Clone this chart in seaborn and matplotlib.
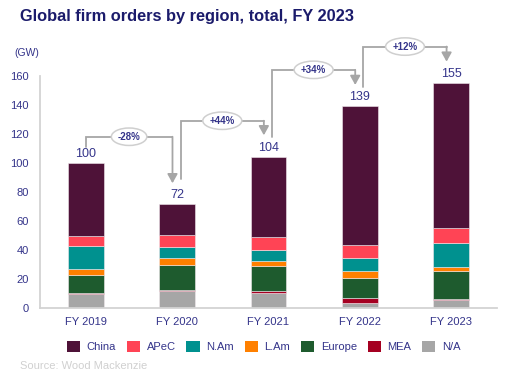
import matplotlib
matplotlib.use("Agg")
import matplotlib.pyplot as plt
import seaborn as sns
import numpy as np
import pandas as pd
from matplotlib.patches import Patch

years = ["FY 2019", "FY 2020", "FY 2021", "FY 2022", "FY 2023"]
regions = ["China", "APeC", "N.Am", "L.Am", "Europe", "MEA", "N/A"]
na_vals = [10.0, 12.0, 10.7, 3.4, 5.7]
mea_vals = [0.8, 0.9, 1.2, 3.5, 0.9]
europe_vals = [12.0, 16.8, 17.2, 14.2, 19.3]
lam_vals = [4.5, 4.6, 3.6, 4.6, 2.3]
nam_vals = [15.5, 7.6, 7.4, 8.7, 16.5]
apec_vals = [7.0, 8.4, 8.7, 9.1, 10.7]
china_vals = [50.2, 21.7, 55.2, 95.5, 99.6]
totals = [100, 72, 104, 139, 155]

colors = {"China": "#4E1238", "APeC": "#FF4455", "N.Am": "#00918F",
          "L.Am": "#FF8000", "Europe": "#1E5B2E", "MEA": "#A50021", "N/A": "#A6A6A6"}
series = {"N/A": na_vals, "MEA": mea_vals, "Europe": europe_vals, "L.Am": lam_vals,
          "N.Am": nam_vals, "APeC": apec_vals, "China": china_vals}

navy = "#34348A"
gray = "#A6A6A6"

sns.set_theme(style="white")
plt.rcParams["font.family"] = ["Liberation Sans", "DejaVu Sans"]

fig = plt.figure(figsize=(5.15, 3.84), dpi=100)
ax = fig.add_axes([0.0777, 0.197, 0.887, 0.606])

bottom = np.zeros(len(years))
for name in ["N/A", "MEA", "Europe", "L.Am", "N.Am", "APeC", "China"]:
    vals = np.array(series[name])
    df = pd.DataFrame({"year": years, "value": vals})
    sns.barplot(data=df, x="year", y="value", order=years, color=colors[name],
                bottom=bottom, width=0.39, saturation=1, ax=ax,
                edgecolor="#F0E8EC", linewidth=0.4, errorbar=None)
    bottom = bottom + vals

ax.set_ylim(0, 160)
ax.set_xlim(-0.5, 4.5)
ax.set_yticks(np.arange(0, 161, 20))
ax.set_xlabel("")
ax.set_ylabel("")
for s in ["top", "right"]:
    ax.spines[s].set_visible(False)
for s in ["left", "bottom"]:
    ax.spines[s].set_color("#D3D3D3")
    ax.spines[s].set_linewidth(1.3)
ax.tick_params(axis="y", colors=navy, labelsize=8, length=0, pad=8)
ax.tick_params(axis="x", colors=navy, labelsize=8, length=0, pad=6)

# total labels
for i, t in enumerate(totals):
    ax.text(i, t + 6, f"{t}", ha="center", va="center", fontsize=9, color=navy,
            clip_on=False)

# growth connectors
level_offsets = [18, 25, 25, 25]
start_offsets = [11, 17, 14, 13]
tip_offsets = [14, 15, 14.6, 14.6]
for i in range(len(totals) - 1):
    a, b = totals[i], totals[i + 1]
    level = max(a, b) + level_offsets[i]
    x0 = i + (0.0 if i == 0 else 0.04)
    x1 = i + 1 - 0.05
    ax.plot([x0, x0, x1], [a + start_offsets[i], level, level], color=gray,
            lw=1.3, clip_on=False, solid_joinstyle="miter")
    ax.annotate("", xy=(x1, b + tip_offsets[i]), xytext=(x1, level),
                arrowprops=dict(arrowstyle="-|>,head_width=0.25,head_length=0.45",
                                color=gray, lw=1.3, shrinkA=0, shrinkB=0),
                annotation_clip=False)
    pct = (b - a) / a * 100
    lbl = f"{pct:+.0f}%"
    xm = (x0 + x1) / 2
    ax.text(xm, level, lbl, ha="center", va="center", fontsize=7, color=navy,
            fontweight="bold", clip_on=False,
            bbox=dict(boxstyle="ellipse,pad=0.12", fc="white", ec="#CFCFCF", lw=1.1))

fig.text(0.039, 0.958, "Global firm orders by region, total, FY 2023", fontsize=11.8,
         fontweight="bold", color="#1B1B6B", ha="left", va="center")
fig.text(0.027, 0.862, "(GW)", fontsize=7.5, color=navy, ha="left", va="center")

handles = [Patch(facecolor=colors[r], edgecolor="none", label=r) for r in regions]
leg = fig.legend(handles=handles, loc="center", bbox_to_anchor=(0.512, 0.098), ncol=7,
                 frameon=False, prop={"size": 8}, handlelength=1.2,
                 handleheight=1.2, columnspacing=0.95, handletextpad=0.6)
for txt in leg.get_texts():
    txt.set_color(navy)

fig.text(0.039, 0.047, "Source: Wood Mackenzie", fontsize=8, color="#D0D0D0",
         ha="left", va="center")

fig.savefig("out.png", dpi=100)
